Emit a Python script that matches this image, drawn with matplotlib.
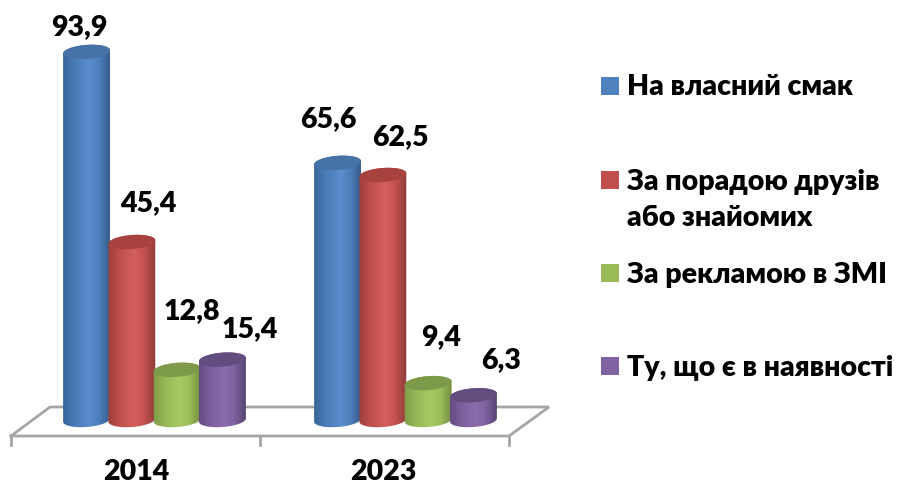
import numpy as np
import matplotlib
matplotlib.use("Agg")
import matplotlib.pyplot as plt
from matplotlib.patches import PathPatch, Rectangle
from matplotlib.path import Path
from matplotlib.colors import LinearSegmentedColormap

years = ["2014", "2023"]
own_taste = [93.9, 65.6]
friends_advice = [45.4, 62.5]
media_ads = [12.8, 9.4]
available = [15.4, 6.3]
series_names = ["На власний смак", "За порадою друзів\nабо знайомих",
                "За рекламою в ЗМІ", "Ту, що є в наявності"]

plt.rcParams["font.family"] = ["Lato", "Open Sans", "DejaVu Sans"]
plt.rcParams["font.weight"] = "heavy"

W, H = 900, 488
fig = plt.figure(figsize=(W / 100, H / 100), dpi=100, facecolor="white")
ax = fig.add_axes([0, 0, 1, 1])

# axis scales: x = group index, y = value
GROUP_PX, X0_PX = 251.0, 154.5
BASE_PX, UNIT_PX = 420.0, 3.92
xlim = ((0 - X0_PX) / GROUP_PX, (W - X0_PX) / GROUP_PX)
ylim = ((BASE_PX - H) / UNIT_PX, BASE_PX / UNIT_PX)
ax.set_xlim(xlim)
ax.set_ylim(ylim)
ax.axis("off")

dx = lambda px: px / GROUP_PX      # pixel length -> x units
dy = lambda px: px / UNIT_PX       # pixel length -> y units
X = lambda px: (px - X0_PX) / GROUP_PX
Y = lambda py: (BASE_PX - py) / UNIT_PX

BAR_STEP, HALF_W, HALF_H, TILT = 45.3, 23.5, 7.0, np.deg2rad(4.5)
styles = [
    (["#38659a", "#4a7cb8", "#5b8ccc", "#4f80bd", "#335a88"], "#4672a6", "#4f81bd"),
    (["#9c3f3c", "#c0504d", "#d4605c", "#c4524f", "#8f3b39"], "#a8423f", "#c0504d"),
    (["#7f9c47", "#97b857", "#a8ca64", "#9ec05c", "#738d40"], "#7d9a4a", "#9bbb59"),
    (["#61497f", "#7b5f9c", "#8b6cad", "#8064a2", "#574472"], "#634d7f", "#8064a2"),
]
all_series = [own_taste, friends_advice, media_ads, available]


def ell(xc, yc, t):
    # t in 0..pi = lower arc (right to left), pi..2pi = upper arc (left to right)
    ex = HALF_W * np.cos(t) * np.cos(TILT) + HALF_H * np.sin(t) * np.sin(TILT)
    ey = HALF_W * np.cos(t) * np.sin(TILT) - HALF_H * np.sin(t) * np.cos(TILT)
    return xc + dx(ex), yc + dy(ey)


# floor
fl = "#a6a6a6"
fx = [X(11), X(509), X(549), X(50), X(11)]
fy = [Y(436), Y(436), Y(407), Y(407), Y(436)]
ax.plot(fx, fy, color=fl, lw=2, zorder=1, solid_joinstyle="miter")
for p in (11, 260, 509):
    ax.plot([X(p), X(p)], [Y(436), Y(445)], color=fl, lw=2, zorder=1)

# cylinders
for g in range(len(years)):
    for s, vals in enumerate(all_series):
        v = vals[g]
        xc = g + dx((s - 1.5) * BAR_STEP)
        z = 3 + s + g * 10
        grad, top_c, _ = styles[s]
        low = np.linspace(0, np.pi, 60)
        up = np.linspace(np.pi, 2 * np.pi, 60)
        bx, by = ell(xc, 0, low)
        tx, ty = ell(xc, v, up)
        px = np.concatenate([bx, tx, bx[:1]])
        py = np.concatenate([by, ty, by[:1]])
        clip = PathPatch(Path(np.column_stack([px, py])), fc="none", ec="none",
                         transform=ax.transData)
        ax.add_patch(clip)
        cmap = LinearSegmentedColormap.from_list("c", list(zip([0, .25, .55, .75, 1], grad)))
        im = ax.imshow(np.linspace(0, 1, 128)[None, :], cmap=cmap, aspect="auto",
                       extent=[xc - dx(HALF_W + .5), xc + dx(HALF_W + .5), -5, 110],
                       zorder=z, interpolation="bilinear")
        im.set_clip_path(clip)
        t2 = np.linspace(0, 2 * np.pi, 120)
        ex, ey = ell(xc, v, t2)
        ax.fill(ex, ey, color=top_c, lw=0, zorder=z + .5)
ax.set_xlim(xlim)
ax.set_ylim(ylim)

# value labels
label_px = [[(79, 27), (148, 203), (192, 311), (250, 329)],
            [(328, 119), (400, 137), (441, 337), (501, 360)]]
FS = 20.5
for g in range(len(years)):
    for s, vals in enumerate(all_series):
        lx, ly = label_px[g][s]
        ax.text(X(lx), Y(ly), f"{vals[g]:.1f}".replace(".", ","), fontsize=FS,
                ha="center", va="center", color="black", zorder=50)

# category labels
for g, name in enumerate(years):
    ax.text(X((136, 383)[g]), Y(485), name, fontsize=FS, ha="center", va="bottom",
            color="black", zorder=50)

# legend
sq_top = [77, 171, 264, 357]
txt_y = [87, 200, 275, 368]
for i, name in enumerate(series_names):
    ax.add_patch(Rectangle((X(601), Y(sq_top[i] + 18)), dx(18), dy(18),
                           fc=styles[i][2], ec="none", zorder=40))
    ax.text(X(627), Y(txt_y[i]), name, fontsize=FS, ha="left", va="center",
            color="black", linespacing=1.48, zorder=50)

fig.savefig("out.png", dpi=100, facecolor="white")
